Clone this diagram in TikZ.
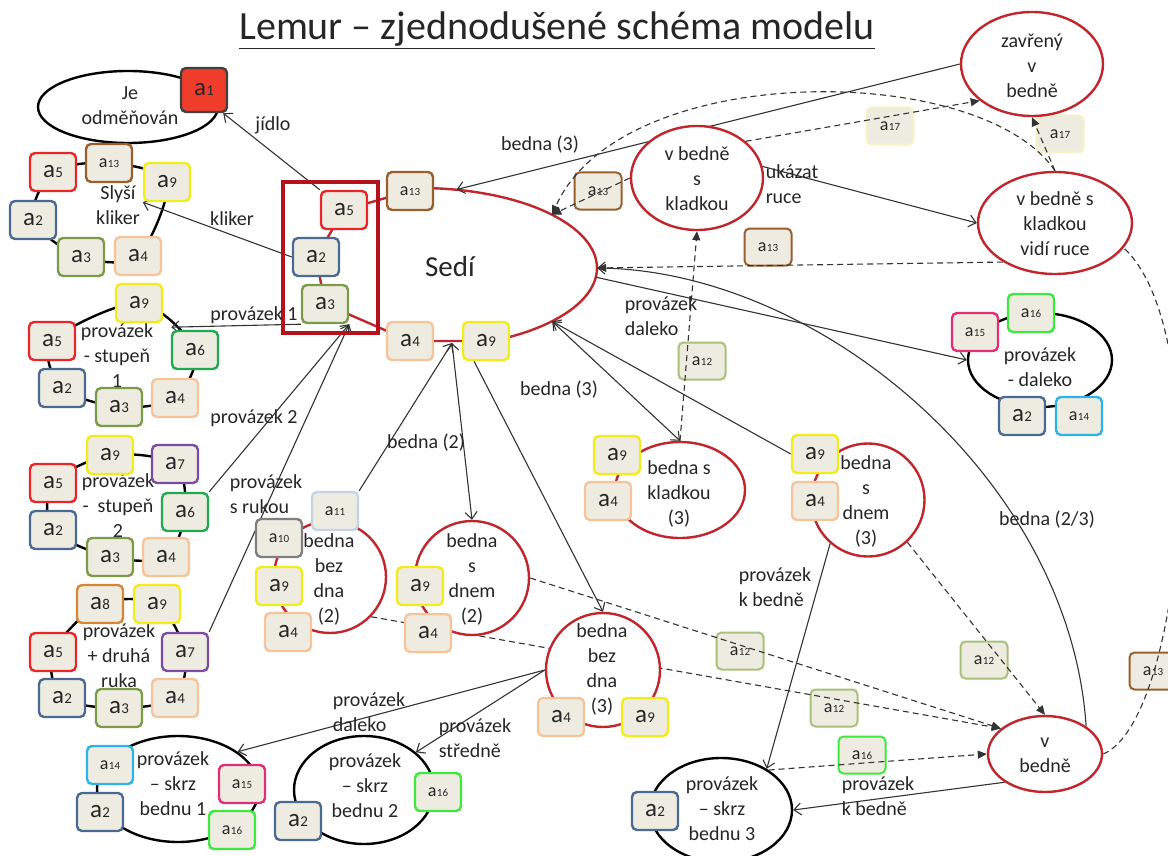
\documentclass[tikz,border=0pt]{standalone}
\usepackage{fontspec}
\setmainfont{Carlito}
\usetikzlibrary{shapes.geometric,arrows.meta}
\pgfdeclarelayer{background}
\pgfsetlayers{background,main}

\definecolor{boxfill}{HTML}{EEECE1}
\definecolor{statered}{HTML}{C0262C}
\definecolor{framered}{HTML}{B5121B}
\definecolor{linegray}{HTML}{333333}
\definecolor{ca1}{HTML}{F03C2A}
\definecolor{ca2}{HTML}{4A6A91}
\definecolor{ca3}{HTML}{7C9A48}
\definecolor{ca4}{HTML}{F6C39B}
\definecolor{ca5}{HTML}{E8262A}
\definecolor{ca6}{HTML}{1FAA50}
\definecolor{ca7}{HTML}{7B4BA3}
\definecolor{ca8}{HTML}{D98535}
\definecolor{ca9}{HTML}{F2EC1C}
\definecolor{ca10}{HTML}{7F7F7F}
\definecolor{ca11}{HTML}{C5D3E6}
\definecolor{ca12}{HTML}{A8C17A}
\definecolor{ca13}{HTML}{995F2D}
\definecolor{ca14}{HTML}{2CB3E8}
\definecolor{ca15}{HTML}{E02F77}
\definecolor{ca16}{HTML}{3EE83E}
\definecolor{ca17}{HTML}{F6F1C6}

\newcommand{\ai}[1]{a\kern.4pt{\fontsize{15}{15}\selectfont#1}}
\newcommand{\aii}[1]{{\fontsize{18}{18}\selectfont a\kern.4pt{\fontsize{11}{11}\selectfont#1}}}

\tikzset{
  txt/.style={font=\fontsize{20}{25}\selectfont, text=black!85, align=center, inner sep=0pt},
  abox/.style={draw=#1, fill=boxfill, rounded corners=5pt, line width=2.4pt, minimum width=46pt, minimum height=38pt, inner sep=0pt, font=\fontsize{25}{25}\selectfont, text=black!85},
  lbox/.style={abox=#1, line width=2pt, minimum width=47pt, minimum height=37pt},
  state/.style={ellipse, draw=statered, line width=2.4pt, fill=white, inner sep=0pt},
  grp/.style={ellipse, draw=black, line width=2.4pt, fill=white, inner sep=0pt},
  rim/.style={line width=2.4pt},
  go/.style={draw=linegray, line width=1.1pt, -{Straight Barb[length=7pt,width=12pt]}},
  gogo/.style={go, {Straight Barb[length=7pt,width=12pt]}-{Straight Barb[length=7pt,width=12pt]}},
  maybe/.style={draw=linegray, line width=1.1pt, dash pattern=on 6pt off 4pt, -{Triangle[length=9pt,width=8pt]}},
}

\begin{document}
\begin{tikzpicture}[x=1pt,y=-1pt]
\useasboundingbox (0,0) rectangle (1168,856);

\node[font=\fontsize{40}{40}\selectfont, text=black!85, inner sep=0pt] (title) at (557,30) {\underline{Lemur – zjednodušené schéma modelu}};

\node[grp, minimum width=180pt, minimum height=72pt] (je) at (128,107) {};
\node[txt] (jet) at (130,106) {Je\\odměňován};
\node[abox=black!75, fill=ca1, minimum height=44pt] (je1) at (204,90) {\ai{1}};

\node[txt] (skt) at (118,205) {Slyší\\kliker};
\node[abox=ca5] (sk5) at (53,172) {\ai{5}};
\node[abox=ca13] (sk13) at (109,163) {\aii{13}};
\node[abox=ca9] (sk9) at (167,182) {\ai{9}};
\node[abox=ca4] (sk4) at (138,256) {\ai{4}};
\node[abox=ca3] (sk3) at (81,257) {\ai{3}};
\node[abox=ca2] (sk2) at (33,220) {\ai{2}};

\node[txt] (p1t) at (117,356) {provázek\\- stupeň\\1};
\node[abox=ca9] (p1n9) at (139,303) {\ai{9}};
\node[abox=ca6] (p1n6) at (195,350) {\ai{6}};
\node[abox=ca4] (p1n4) at (175,398) {\ai{4}};
\node[abox=ca3] (p1n3) at (119,407) {\ai{3}};
\node[abox=ca2] (p1n2) at (62,388) {\ai{2}};
\node[abox=ca5] (p1n5) at (52,341) {\ai{5}};

\node[txt] (p2t) at (118,506) {provázek\\-~ stupeň\\2};
\node[abox=ca9] (p2n9) at (110,455) {\ai{9}};
\node[abox=ca7] (p2n7) at (175,464) {\ai{7}};
\node[abox=ca6] (p2n6) at (185,512) {\ai{6}};
\node[abox=ca4] (p2n4) at (166,557) {\ai{4}};
\node[abox=ca3] (p2n3) at (110,557) {\ai{3}};
\node[abox=ca2] (p2n2) at (53,530) {\ai{2}};
\node[abox=ca5] (p2n5) at (53,483) {\ai{5}};

\node[txt] (p3t) at (119,656) {provázek\\+ druhá\\ruka};
\node[abox=ca8] (p3n8) at (100,604) {\ai{8}};
\node[abox=ca9] (p3n9) at (157,604) {\ai{9}};
\node[abox=ca7] (p3n7) at (185,652) {\ai{7}};
\node[abox=ca4] (p3n4) at (175,698) {\ai{4}};
\node[abox=ca3] (p3n3) at (119,708) {\ai{3}};
\node[abox=ca2] (p3n2) at (62,698) {\ai{2}};
\node[abox=ca5] (p3n5) at (53,652) {\ai{5}};

\node[ellipse, minimum width=354pt, minimum height=160pt, inner sep=0pt] (sedi) at (420,268) {};
\node[font=\fontsize{29}{29}\selectfont, text=black!85] (sedit) at (450,267) {Sedí};
\draw[framered, line width=4pt] (283,182) rectangle (378,333);
\node[abox=ca13] (s13) at (410,191) {\aii{13}};
\node[abox=ca5] (s5) at (344,210) {\ai{5}};
\node[abox=ca2] (s2) at (316,257) {\ai{2}};
\node[abox=ca3] (s3) at (325,304) {\ai{3}};
\node[abox=ca4] (s4) at (410,341) {\ai{4}};
\node[abox=ca9] (s9) at (486,341) {\ai{9}};
\coordinate (sedibot) at (452,343);

\node[state, minimum width=132pt, minimum height=104pt] (vbsk) at (697,178) {};
\node[txt] (vbskt) at (697,179) {v bedně\\s\\kladkou};
\node[state, minimum width=142pt, minimum height=104pt] (zav) at (1032,64) {};
\node[txt] (zavt) at (1032,66) {zavřený\\v\\bedně};
\node[state, minimum width=154pt, minimum height=102pt] (vbvr) at (1055,223) {};
\node[txt] (vbvrt) at (1055,224) {v bedně s\\kladkou\\vidí ruce};

\node[state, minimum width=130pt, minimum height=96pt] (bsk3) at (680,490) {};
\node[txt] (bsk3t) at (679,494) {bedna s\\kladkou\\(3)};
\node[abox=ca9] (k9) at (617,455) {\ai{9}};
\node[abox=ca4] (k4) at (608,501) {\ai{4}};

\node[state, minimum size=113pt] (bsd3) at (868,500) {};
\node[txt] (bsd3t) at (866,501) {bedna\\s\\dnem\\(3)};
\node[abox=ca9] (e9) at (815,454) {\ai{9}};
\node[abox=ca4] (e4) at (815,501) {\ai{4}};

\node[state, minimum size=112pt] (bbd2) at (330,577) {};
\node[txt] (bbd2t) at (329,579) {bedna\\bez\\dna\\(2)};
\node[abox=ca11] (f11) at (335,511) {\aii{11}};
\node[abox=ca10] (f10) at (279,538) {\aii{10}};
\node[abox=ca9] (f9) at (279,586) {\ai{9}};
\node[abox=ca4] (f4) at (288,632) {\ai{4}};

\node[state, minimum size=114pt] (bsd2) at (472,578) {};
\node[txt] (bsd2t) at (472,579) {bedna\\s\\dnem\\(2)};
\node[abox=ca9] (g9) at (420,586) {\ai{9}};
\node[abox=ca4] (g4) at (428,633) {\ai{4}};

\node[state, minimum size=114pt] (bbd3) at (603,670) {};
\node[txt] (bbd3t) at (602,669) {bedna\\bez\\dna\\(3)};
\node[abox=ca4] (h4) at (561,717) {\ai{4}};
\node[abox=ca9] (h9) at (645,717) {\ai{9}};

\node[state, minimum width=114pt, minimum height=76pt] (vb) at (1045,754) {};
\node[txt] (vbt) at (1045,755) {v\\bedně};

\node[grp, minimum width=162pt, minimum height=106pt] (psb1) at (178,789) {};
\node[txt] (psb1t) at (173,784) {provázek\\– skrz\\bednu 1};
\node[abox=ca14] (q1n14) at (110,765) {\aii{14}};
\node[abox=ca2] (q1n2) at (100,812) {\ai{2}};
\node[abox=ca15] (q1n15) at (242,784) {\aii{15}};
\node[abox=ca16] (q1n16) at (232,830) {\aii{16}};

\node[grp, minimum width=140pt, minimum height=108pt] (psb2) at (364,790) {};
\node[txt] (psb2t) at (365,786) {provázek\\– skrz\\bednu 2};
\node[abox=ca2] (q2n2) at (298,821) {\ai{2}};
\node[abox=ca16] (q2n16) at (438,792) {\aii{16}};

\node[grp, minimum width=142pt, minimum height=104pt] (psb3) at (721,810) {};
\node[txt] (psb3t) at (722,809) {provázek\\– skrz\\bednu 3};
\node[abox=ca2] (q3n2) at (655,811) {\ai{2}};

\node[grp, minimum width=144pt, minimum height=94pt] (pd) at (1040,360) {};
\node[txt] (pdt) at (1040,367) {provázek\\- daleko};
\node[abox=ca15] (d15) at (975,332) {\aii{15}};
\node[abox=ca16] (d16) at (1031,313) {\aii{16}};
\node[abox=ca2] (d2) at (1022,416) {\ai{2}};
\node[abox=ca14] (d14) at (1079,416) {\aii{14}};

\node[txt] (ljidlo) at (273,125) {jídlo};
\node[txt] (lkliker) at (232,219) {kliker};
\node[txt] (lprov1) at (254,315) {provázek 1};
\node[txt] (lprov2) at (254,418) {provázek 2};
\node[txt, align=left] (lruka) at (266,494) {provázek\\s rukou};
\node[txt] (lbed2) at (426,443) {bedna (2)};
\node[txt] (lbed3a) at (559,390) {bedna (3)};
\node[txt] (lbed3b) at (540,145) {bedna (3)};
\node[txt, align=left] (lukaz) at (792,184) {ukázat\\ruce};
\node[txt, align=left] (ldal1) at (661,316) {provázek\\daleko};
\node[txt] (lbed23) at (1047,520) {bedna (2/3)};
\node[txt, align=left] (lkb1) at (775,587) {provázek\\k bedně};
\node[txt, align=left] (lkb2) at (878,796) {provázek\\k bedně};
\node[txt, align=left] (ldal2) at (369,712) {provázek\\daleko};
\node[txt, align=left] (lstr) at (475,738) {provázek\\středně};

\begin{pgfonlayer}{background}
\fill[white] (0,0) rectangle (1168,856);

\draw[rim] plot[smooth cycle] coordinates {(sk5.center) (sk13.center) (sk9.center) (sk4.center) (sk3.center) (sk2.center)};
\draw[rim] plot[smooth cycle] coordinates {(p1n9.center) (p1n6.center) (p1n4.center) (p1n3.center) (p1n2.center) (p1n5.center)};
\draw[rim] plot[smooth cycle] coordinates {(p2n9.center) (p2n7.center) (p2n6.center) (p2n4.center) (p2n3.center) (p2n2.center) (p2n5.center)};
\draw[rim] plot[smooth cycle] coordinates {(p3n8.center) (p3n9.center) (p3n7.center) (p3n4.center) (p3n3.center) (p3n2.center) (p3n5.center)};
\draw[statered, rim] (s9.center) -- (s4.center) -- (s3.center) -- (s2.center) -- (s5.center) -- (s13.center)
  -- plot[domain=-93:68, samples=60] ({420+177*cos(\x)},{268+80*sin(\x)}) -- cycle;

\node[lbox=ca13] (l13a) at (598,191) {\aii{13}};
\node[lbox=ca13] (l13b) at (768,247) {\aii{13}};
\node[lbox=ca17] (l17a) at (890,126) {\aii{17}};
\node[lbox=ca17] (l17b) at (1060,134) {\aii{17}};
\node[lbox=ca12] (l12a) at (702,361) {\aii{12}};
\node[lbox=ca12] (l12b) at (740,651) {\aii{12}};
\node[lbox=ca12] (l12c) at (834,708) {\aii{12}};
\node[lbox=ca12] (l12d) at (984,660) {\aii{12}};
\node[lbox=ca16] (l16) at (862,755) {\aii{16}};
\node[lbox=ca13] (l13c) at (1153,671) {\aii{13}};

\draw[go] (s5.north west) -- ([xshift=-5pt]je1.south east);
\draw[go] (s2.west) -- (sk9.south west);
\draw[go] (s3.south west) -- ([xshift=8pt,yshift=-4pt]p1n9.south east);
\draw[go] (p2n6.north east) -- (s3.south east);
\draw[go] (p3n7.north east) -- (s3.south east);
\draw[go] (f11.north east) -- (sedibot);
\draw[gogo] (sedibot) -- (bsd2.north);
\draw[go] ([xshift=-12pt]s9.south) -- (bbd3.north);
\draw[gogo] (sedi.-22) -- (bsk3.north);
\draw[go] (e9.west) -- (sedi.-22);
\draw[go] (zav.west) -- (sedi.65);
\draw[go] (vbsk.10) -- (vbvr.west);
\draw[go] (sedi.-3) -- (pd.west);
\draw[go] (vb.34) .. controls (1070,480) and (820,270) .. (sedi.east);
\draw[go] (bsd3.-131) -- (psb3.42);
\draw[go] (vb.-145) -- (psb3.east);
\draw[go] (bbd3.west) -- (psb1.32);
\draw[go] (bbd3.west) -- (psb2.36);

\draw[maybe] (vbsk.west) -- (sedi.22);
\draw[maybe] (vbvr.north) .. controls (980,60) and (620,60) .. (sedi.22);
\draw[maybe] (vbsk.37) -- (zav.-145);
\draw[maybe] (vbvr.north) -- (zav.south);
\draw[maybe] (vbvr.-143) -- (sedi.east);
\draw[maybe] (bsk3.north) -- (vbsk.south);
\draw[maybe] (bsd3.-47) -- (vb.north);
\draw[maybe] (bsd2.east) -- (vb.150);
\draw[maybe] (bbd2.-44) -- (vb.150);
\draw[maybe] (psb3.40) -- (vb.west);
\draw[maybe, -] (vb.east) .. controls (1185,720) and (1215,330) .. (vbvr.-20);
\end{pgfonlayer}
\end{tikzpicture}
\end{document}
